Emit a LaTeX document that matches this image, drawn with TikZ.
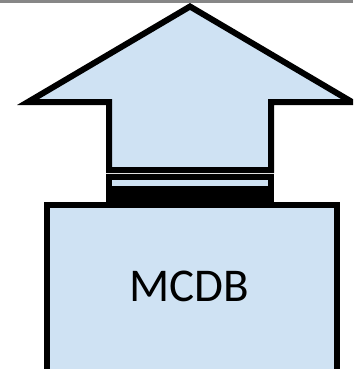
\documentclass[tikz,border=0pt]{standalone}
\usepackage{fontspec}
\setmainfont{Carlito}
\definecolor{fillblue}{RGB}{207,226,243}
\definecolor{topgrey}{RGB}{135,135,135}
\tikzset{
  shapeline/.style={draw=black, line width=6pt, fill=fillblue, miter limit=20},
}
\begin{document}
\begin{tikzpicture}[x=1pt,y=-1pt]
\useasboundingbox (0,0) rectangle (353,369);
\clip (0,0) rectangle (353,369);
% big box
\node[shapeline, rectangle, minimum width=290pt, minimum height=168pt, inner sep=0pt, anchor=north west] (box) at (44,202) {};
\node[font=\fontsize{47}{54}\selectfont, inner sep=0pt] (label) at (189,286) {MCDB};
% stacked bars
\coordinate (b1nw) at (109,195);
\coordinate (b1se) at (271,201);
\draw[shapeline] (b1nw) rectangle (b1se);
\coordinate (b2nw) at (109,176.5);
\coordinate (b2se) at (271,189);
\draw[shapeline] (b2nw) rectangle (b2se);
% arrow
\coordinate (tip) at (190,6.5);
\coordinate (lc) at (28,102);
\coordinate (rc) at (352,102);
\coordinate (ls) at (109,102);
\coordinate (rs) at (271,102);
\coordinate (lb) at (109,170);
\coordinate (rb) at (271,170);
\draw[shapeline] (tip) -- (rc) -- (rs) -- (rb) -- (lb) -- (ls) -- (lc) -- cycle;
% top grey bar
\fill[topgrey] (0,0) rectangle (353,3);
\end{tikzpicture}
\end{document}
